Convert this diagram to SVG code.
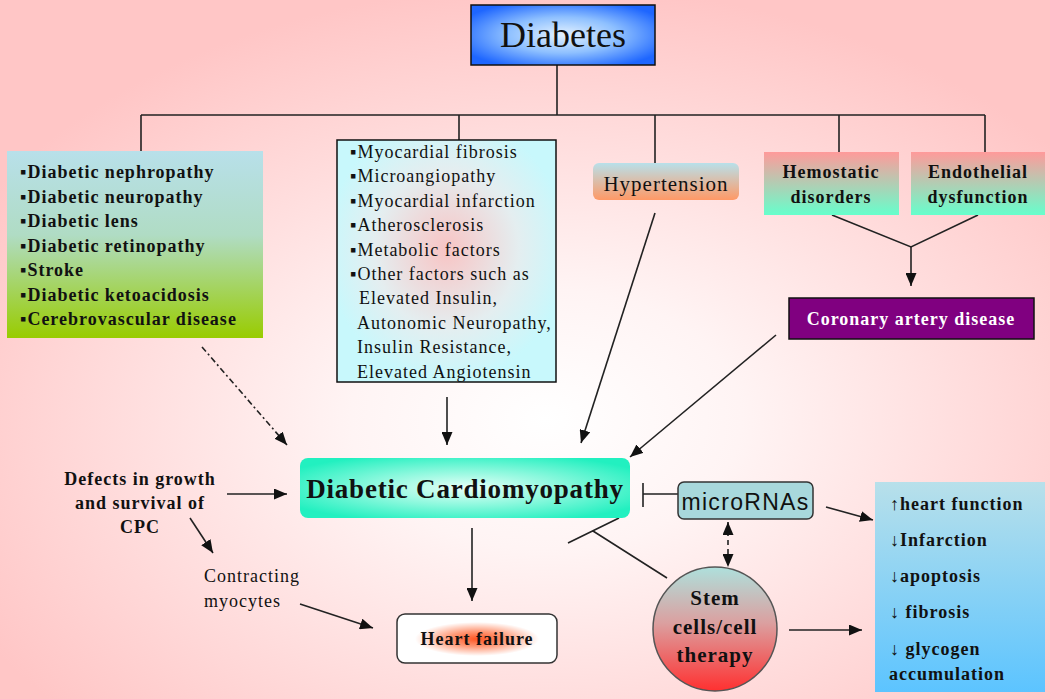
<svg xmlns="http://www.w3.org/2000/svg" width="1050" height="699" viewBox="0 0 1050 699">
<defs>
<radialGradient id="bg" cx="0.52" cy="0.6" r="0.62">
<stop offset="0" stop-color="#ffffff"/><stop offset="0.3" stop-color="#fff4f4"/><stop offset="1" stop-color="#ffc6c6"/>
</radialGradient>
<radialGradient id="gDiab" cx="0.5" cy="0.5" r="0.6">
<stop offset="0" stop-color="#e4f2ff"/><stop offset="0.5" stop-color="#8ec0ff"/><stop offset="1" stop-color="#1e66ff"/>
</radialGradient>
<linearGradient id="gLeft" x1="0" y1="0" x2="0" y2="1">
<stop offset="0" stop-color="#b8e0ea"/><stop offset="0.45" stop-color="#b0dcc4"/><stop offset="1" stop-color="#99cc00"/>
</linearGradient>
<radialGradient id="gMid" cx="0.5" cy="0.45" r="0.55">
<stop offset="0" stop-color="#f8c4c4"/><stop offset="0.6" stop-color="#e4eef0"/><stop offset="1" stop-color="#c8f8fc"/>
</radialGradient>
<linearGradient id="gHyp" x1="0" y1="0" x2="0" y2="1">
<stop offset="0" stop-color="#b8e0ea"/><stop offset="1" stop-color="#ff9966"/>
</linearGradient>
<linearGradient id="gHem" x1="0" y1="0" x2="0" y2="1">
<stop offset="0" stop-color="#ff9a9a"/><stop offset="1" stop-color="#66ffcc"/>
</linearGradient>
<radialGradient id="gDC" cx="0.5" cy="0.5" r="0.6">
<stop offset="0" stop-color="#e8fff8"/><stop offset="0.5" stop-color="#88f8dc"/><stop offset="1" stop-color="#22f0c0"/>
</radialGradient>
<radialGradient id="gHF" cx="0.5" cy="0.5" r="0.5">
<stop offset="0" stop-color="#ff5522"/><stop offset="0.45" stop-color="#ff9977"/><stop offset="1" stop-color="#ffffff"/>
</radialGradient>
<linearGradient id="gStem" x1="0" y1="0" x2="0" y2="1">
<stop offset="0" stop-color="#aee0dc"/><stop offset="0.45" stop-color="#dba0a0"/><stop offset="1" stop-color="#ff3030"/>
</linearGradient>
<linearGradient id="gRight" x1="0" y1="0" x2="0" y2="1">
<stop offset="0" stop-color="#b8e0ea"/><stop offset="1" stop-color="#5cc4ff"/>
</linearGradient>
<marker id="ah" markerUnits="userSpaceOnUse" markerWidth="13" markerHeight="11" refX="13" refY="5.5" orient="auto-start-reverse">
<path d="M0,0 L13,5.5 L0,11 z" fill="#111"/>
</marker>
</defs>
<style>
.ln{stroke:#222;stroke-width:1.6;fill:none}
.ar{stroke:#222;stroke-width:1.6;fill:none;marker-end:url(#ah)}
.sb{font-family:"Liberation Serif",serif;font-weight:bold;font-size:18px;letter-spacing:1px;fill:#111}
.sr{font-family:"Liberation Serif",serif;font-size:18px;letter-spacing:1px;fill:#111}
</style>
<rect width="1050" height="699" fill="url(#bg)"/>

<g id="connectors">
<path class="ln" d="M557,65 V115 M141,115 H985 M141,115 V151 M459,115 V140 M655,115 V163 M839,115 V152 M985,115 V152"/>
<path class="ln" d="M832,215 L911,247 L978,215"/>
<path class="ar" d="M911,247 V286"/>
<path class="ar" d="M655,213 L581,443"/>
<path class="ar" d="M776,335 L630,457"/>
<path class="ar" d="M447,397 V445"/>
<path class="ar" d="M202,347 L287,445" stroke-dasharray="6,3,2,3"/>
<path class="ar" d="M227,494 H287"/>
<path class="ar" d="M190,518 L213,553"/>
<path class="ar" d="M300,604 L373,628"/>
<path class="ar" d="M472,528 V601"/>
<path class="ln" d="M678,494 H643 M643,483 V507"/>
<path class="ar" d="M826,507 L873,520"/>
<path class="ar" d="M728,522 V567" stroke-dasharray="5,4" marker-start="url(#ah)"/>
<path class="ar" d="M789,630 H862"/>
<path class="ln" d="M568,543 L619,518 M593,531 L667,578"/>
</g>

<g id="diabetes">
<rect x="471" y="5" width="184" height="60" fill="url(#gDiab)" stroke="#111" stroke-width="1.5"/>
<text x="563" y="47" text-anchor="middle" style="font-family:'Liberation Serif',serif;font-size:36px;fill:#111">Diabetes</text>
</g>

<g id="complications">
<rect x="7" y="151" width="256" height="187" fill="url(#gLeft)"/>
<g class="sb">
<text x="20" y="178">▪Diabetic nephropathy</text>
<text x="20" y="202.5">▪Diabetic neuropathy</text>
<text x="20" y="227">▪Diabetic lens</text>
<text x="20" y="251.5">▪Diabetic retinopathy</text>
<text x="20" y="276">▪Stroke</text>
<text x="20" y="300.5">▪Diabetic ketoacidosis</text>
<text x="20" y="325">▪Cerebrovascular disease</text>
</g>
</g>

<g id="myocardial">
<rect x="337" y="140" width="219" height="242" fill="url(#gMid)" stroke="#111" stroke-width="1.5"/>
<g class="sr">
<text x="350" y="158">▪Myocardial fibrosis</text>
<text x="350" y="182.4">▪Microangiopathy</text>
<text x="350" y="206.8">▪Myocardial infarction</text>
<text x="350" y="231.2">▪Atherosclerosis</text>
<text x="350" y="255.6">▪Metabolic factors</text>
<text x="350" y="280">▪Other factors such as</text>
<text x="359" y="304.4">Elevated Insulin,</text>
<text x="357" y="328.8">Autonomic Neuropathy,</text>
<text x="357" y="353.2">Insulin Resistance,</text>
<text x="357" y="377.6">Elevated Angiotensin</text>
</g>
</g>

<g id="hypertension">
<rect x="593" y="163" width="146" height="37" rx="6" fill="url(#gHyp)"/>
<text x="666" y="191" text-anchor="middle" style="font-family:'Liberation Serif',serif;font-size:21px;letter-spacing:1px;fill:#111">Hypertension</text>
</g>

<g id="hemostatic">
<rect x="764" y="152" width="135" height="63" fill="url(#gHem)"/>
<text class="sb" x="831" y="178" text-anchor="middle">Hemostatic</text>
<text class="sb" x="831" y="203" text-anchor="middle">disorders</text>
</g>

<g id="endothelial">
<rect x="911" y="152" width="134" height="63" fill="url(#gHem)"/>
<text class="sb" x="978" y="178" text-anchor="middle">Endothelial</text>
<text class="sb" x="978" y="203" text-anchor="middle">dysfunction</text>
</g>

<g id="coronary">
<rect x="789" y="298" width="245" height="41" fill="#800080" stroke="#111" stroke-width="1.5"/>
<text class="sb" x="911" y="325" text-anchor="middle" style="fill:#ffffff">Coronary artery disease</text>
</g>

<g id="cardiomyopathy">
<rect x="300" y="458" width="330" height="60" rx="8" fill="url(#gDC)"/>
<text x="465" y="498" text-anchor="middle" style="font-family:'Liberation Serif',serif;font-weight:bold;font-size:27px;letter-spacing:0.8px;fill:#111">Diabetic Cardiomyopathy</text>
</g>

<g id="defects">
<text class="sb" x="140" y="485" text-anchor="middle">Defects in growth</text>
<text class="sb" x="140" y="509" text-anchor="middle">and survival of</text>
<text class="sb" x="140" y="533" text-anchor="middle">CPC</text>
</g>

<g id="contracting">
<text class="sr" x="204" y="582">Contracting</text>
<text class="sr" x="204" y="607">myocytes</text>
</g>

<g id="heartfailure">
<rect x="397" y="614" width="160" height="49" rx="8" fill="#ffffff" stroke="#333" stroke-width="1.5"/>
<ellipse cx="477" cy="639" rx="62" ry="17" fill="url(#gHF)"/>
<text class="sb" x="477" y="645" text-anchor="middle">Heart failure</text>
</g>

<g id="micrornas">
<rect x="678" y="482" width="135" height="37" rx="6" fill="#a8d8dc" stroke="#333" stroke-width="1.5"/>
<text x="745.5" y="510" text-anchor="middle" style="font-family:'Liberation Sans',Arial,sans-serif;font-size:23px;letter-spacing:1.3px;fill:#111">microRNAs</text>
</g>

<g id="stemcells">
<circle cx="715" cy="629" r="62" fill="url(#gStem)" stroke="#555" stroke-width="1.5"/>
<g class="sb" style="font-size:21px" text-anchor="middle">
<text x="715" y="605">Stem</text>
<text x="715" y="634">cells/cell</text>
<text x="715" y="662">therapy</text>
</g>
</g>

<g id="outcomes">
<rect x="875" y="482" width="170" height="210" fill="url(#gRight)"/>
<g class="sb">
<text x="890" y="510">↑heart function</text>
<text x="890" y="546">↓Infarction</text>
<text x="890" y="582">↓apoptosis</text>
<text x="890" y="618">↓ fibrosis</text>
<text x="890" y="655">↓ glycogen</text>
<text x="889" y="680">accumulation</text>
</g>
</g>
</svg>
